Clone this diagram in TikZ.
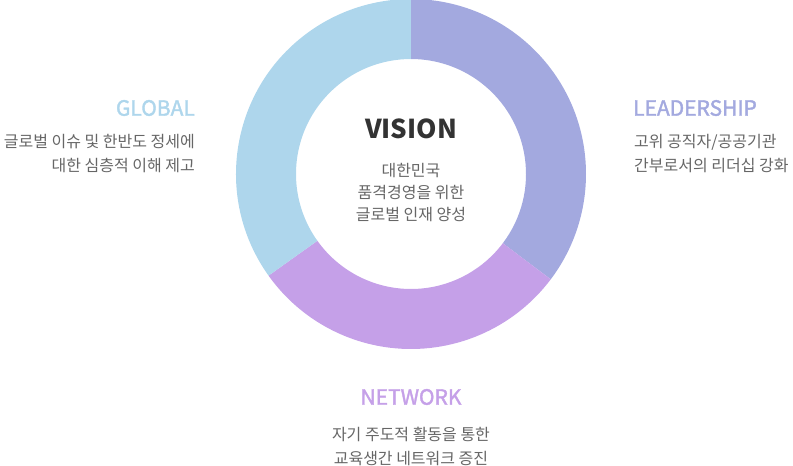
\documentclass[tikz,border=0pt]{standalone}
\usepackage{fontspec}
\setmainfont{Noto Sans CJK KR}
\newfontfamily\medfont[FakeBold=1.8]{Noto Sans CJK KR}
\usepackage{tikz}
\definecolor{ringLead}{RGB}{163, 169, 223}
\definecolor{ringNet}{RGB}{197, 160, 232}
\definecolor{ringGlob}{RGB}{174, 214, 236}
\definecolor{txtDark}{RGB}{51, 51, 51}
\definecolor{txtGray}{RGB}{102, 102, 102}

\tikzset{
  title/.style={font=\medfont\fontsize{21}{24}\selectfont, inner sep=0pt},
  body/.style={font=\fontsize{16}{24}\selectfont, text=txtGray, inner sep=0pt}
}

\begin{document}
\begin{tikzpicture}[x=1pt, y=1pt]
        \useasboundingbox (-411,-292) rectangle (382,174);
        % ring
        \fill[ringLead] (90:175) arc (90:-37:175) -- (-37:115) arc (-37:90:115) -- cycle;
        \fill[ringNet] (-37:175) arc (-37:-144.5:175) -- (-144.5:115) arc (-144.5:-37:115) -- cycle;
        \fill[ringGlob] (-144.5:175) arc (-144.5:-270:175) -- (90:115) arc (90:215.5:115) -- cycle;
        % centre
        \node[font=\fontsize{26}{30}\selectfont\bfseries, text=txtDark, inner sep=0pt] (vision) at (0,45) {VISION};
        \node[body, font=\fontsize{16}{22}\selectfont, align=center] (visionTxt) at (0,-19) {대한민국\\품격경영을 위한\\글로벌 인재 양성};
        % labels
        \node[title, text=ringGlob, anchor=east] (glob) at (-216,66) {GLOBAL};
        \node[body, align=right, anchor=east] (globTxt) at (-216,20) {글로벌 이슈 및 한반도 정세에\\대한 심층적 이해 제고};
        \node[title, text=ringLead, anchor=west] (lead) at (222,66) {LEADERSHIP};
        \node[body, align=left, anchor=west] (leadTxt) at (223,20) {고위 공직자/공공기관\\간부로서의 리더십 강화};
        \node[title, text=ringNet] (net) at (0,-223) {NETWORK};
        \node[body, align=center] (netTxt) at (0,-272) {자기 주도적 활동을 통한\\교육생간 네트워크 증진};
      \end{tikzpicture}
\end{document}
